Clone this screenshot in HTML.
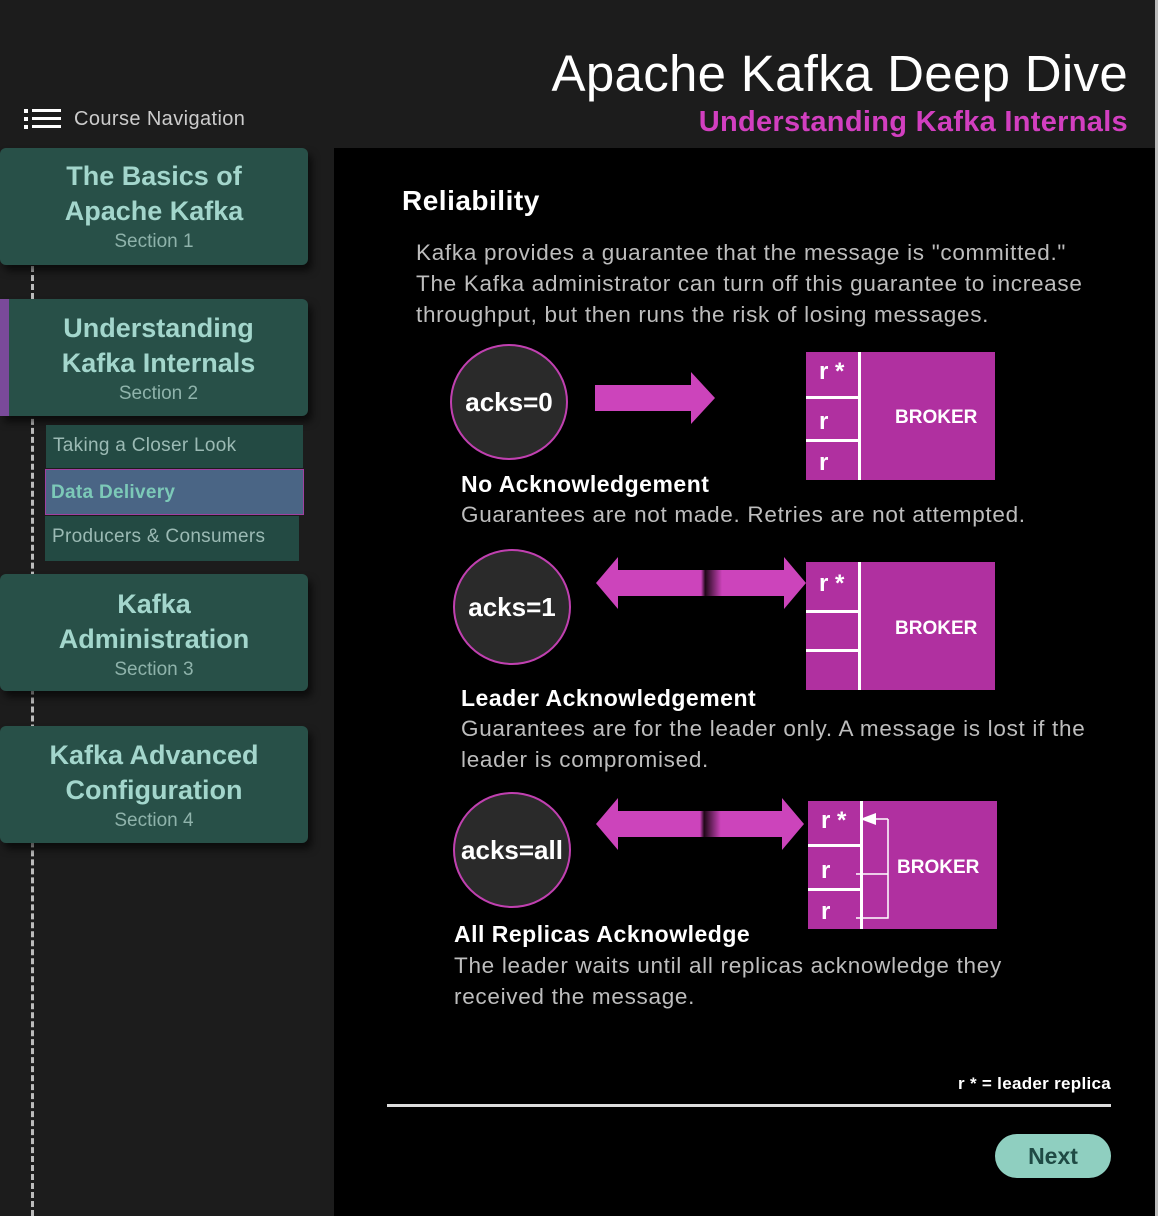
<!DOCTYPE html>
<html><head><meta charset="utf-8"><style>
*{margin:0;padding:0;box-sizing:border-box}
body{width:1158px;height:1216px;background:#1c1c1c;font-family:"Liberation Sans",sans-serif;position:relative;overflow:hidden}
.a{position:absolute}
.card{position:absolute;left:0;width:308px;background:#285048;border-radius:6px;box-shadow:4px 6px 8px rgba(0,0,0,.6);text-align:center;color:#a3d6cc;font-weight:bold;font-size:27px;line-height:35px}
.card span{display:block;font-weight:normal;font-size:19px;line-height:26px;color:#8fb3ab}
.sub{position:absolute;background:#234a43;color:#9bbab4;font-size:19px;padding-left:7px;line-height:42px;letter-spacing:.3px}
.circ{position:absolute;width:118px;height:116px;border-radius:50%;background:#2a2a2a;border:2px solid #c040b0;color:#fff;font-weight:bold;font-size:26px;display:flex;align-items:center;justify-content:center}
.h{position:absolute;color:#fff;font-weight:bold;font-size:23px;letter-spacing:.5px}
.t{position:absolute;color:#bdbdbd;font-size:22.5px;line-height:31px;letter-spacing:.7px}
.br{position:absolute;background:#b030a0}
.br .l{position:absolute;left:52px;top:0;bottom:0;width:3px;background:#fff}
.br .r{position:absolute;left:0;width:52px;height:3px;background:#fff}
.br i{position:absolute;color:#fff;font-style:normal;font-weight:bold;font-size:19px}
</style></head><body>
<div class="a" style="left:334px;top:148px;width:821px;height:1068px;background:#000"></div>
<div class="a" style="left:1155px;top:0;width:3px;height:1216px;background:#bbb"></div>
<div class="a" style="right:30px;top:44px;color:#fff;font-size:51px;letter-spacing:.3px">Apache Kafka Deep Dive</div>
<div class="a" style="right:30px;top:106px;color:#d23fc0;font-size:29px;font-weight:bold;letter-spacing:.3px">Understanding Kafka Internals</div>
<svg class="a" style="left:24px;top:108px" width="38" height="22"><g fill="#fff"><rect x="0" y="1" width="4" height="4"/><rect x="0" y="9" width="4" height="4"/><rect x="0" y="17" width="4" height="4"/><rect x="8" y="1" width="29" height="3"/><rect x="8" y="9" width="29" height="3"/><rect x="8" y="17" width="29" height="3"/></g></svg>
<div class="a" style="left:74px;top:108px;color:#ccc;font-size:20px;letter-spacing:.4px">Course Navigation</div>
<div class="a" style="left:31px;top:266px;height:950px;border-left:3px dashed #bbb"></div>
<div class="card" style="top:148px;height:117px;padding-top:11px">The Basics of<br>Apache Kafka<span>Section 1</span></div>
<div class="card" style="top:299px;height:117px;padding-top:12px;border-left:9px solid #7a4a9a;border-radius:0 6px 6px 0">Understanding<br>Kafka Internals<span>Section 2</span></div>
<div class="sub" style="left:46px;top:425px;width:257px;height:43px">Taking a Closer Look</div>
<div class="sub" style="left:45px;top:469px;width:259px;height:46px;background:#4a6585;border:1px solid #a040a0;color:#7cc9b8;font-weight:bold;line-height:46px;padding-left:5px">Data Delivery</div>
<div class="sub" style="left:45px;top:516px;width:254px;height:45px">Producers &amp; Consumers</div>
<div class="card" style="top:574px;height:117px;padding-top:13px">Kafka<br>Administration<span>Section 3</span></div>
<div class="card" style="top:726px;height:117px;padding-top:12px">Kafka Advanced<br>Configuration<span>Section 4</span></div>

<div class="h" style="left:402px;top:185px;font-size:28px">Reliability</div>
<div class="t" style="left:416px;top:237px">Kafka provides a guarantee that the message is "committed."<br>The Kafka administrator can turn off this guarantee to increase<br>throughput, but then runs the risk of losing messages.</div>

<div class="circ" style="left:450px;top:344px">acks=0</div>
<svg class="a" style="left:595px;top:372px" width="122" height="52"><polygon points="0,13 96,13 96,0 120,26 96,52 96,39 0,39" fill="#cc44bb"/></svg>
<div class="br" style="left:806px;top:352px;width:189px;height:128px"><div class="l"></div><div class="r" style="top:44px"></div><div class="r" style="top:87px"></div><i style="left:13px;top:6px;font-size:24px">r *</i><i style="left:13px;top:56px;font-size:24px">r</i><i style="left:13px;top:97px;font-size:24px">r</i><i style="left:89px;top:55px">BROKER</i></div>
<div class="h" style="left:461px;top:471px">No Acknowledgement</div>
<div class="t" style="left:461px;top:499px">Guarantees are not made. Retries are not attempted.</div>

<div class="circ" style="left:453px;top:549px">acks=1</div>
<svg class="a" style="left:596px;top:557px" width="214" height="52"><defs><linearGradient id="g" x1="0" x2="1"><stop offset="0.5" stop-color="#cc44bb"/><stop offset="0.52" stop-color="#200818"/><stop offset="0.6" stop-color="#cc44bb"/></linearGradient></defs><polygon points="0,26 22,0 22,13 188,13 188,0 210,26 188,52 188,39 22,39 22,52" fill="url(#g)"/></svg>
<div class="br" style="left:806px;top:562px;width:189px;height:128px"><div class="l"></div><div class="r" style="top:48px"></div><div class="r" style="top:87px"></div><i style="left:13px;top:8px;font-size:24px">r *</i><i style="left:89px;top:56px">BROKER</i></div>
<div class="h" style="left:461px;top:685px">Leader Acknowledgement</div>
<div class="t" style="left:461px;top:713px">Guarantees are for the leader only. A message is lost if the<br>leader is compromised.</div>

<div class="circ" style="left:453px;top:792px">acks=all</div>
<svg class="a" style="left:596px;top:798px" width="210" height="52"><polygon points="0,26 22,0 22,13 186,13 186,0 208,26 186,52 186,39 22,39 22,52" fill="url(#g)"/></svg>
<div class="br" style="left:808px;top:801px;width:189px;height:128px"><div class="l"></div><div class="r" style="top:43px"></div><div class="r" style="top:87px"></div><i style="left:13px;top:6px;font-size:24px">r *</i><i style="left:13px;top:56px;font-size:24px">r</i><i style="left:13px;top:97px;font-size:24px">r</i><i style="left:89px;top:56px">BROKER</i>
<svg style="position:absolute;left:44px;top:10px" width="40" height="110"><polyline points="36,8 36,107 4,107" fill="none" stroke="#fff" stroke-width="1.5"/><line x1="4" y1="63" x2="36" y2="63" stroke="#fff" stroke-width="1.5"/><line x1="36" y1="8" x2="20" y2="8" stroke="#fff" stroke-width="1.5"/><polygon points="8,8 24,2 24,14" fill="#fff"/></svg></div>
<div class="h" style="left:454px;top:921px">All Replicas Acknowledge</div>
<div class="t" style="left:454px;top:950px">The leader waits until all replicas acknowledge they<br>received the message.</div>

<div class="a" style="right:47px;top:1074px;color:#fff;font-weight:bold;font-size:17px;letter-spacing:.3px">r * = leader replica</div>
<div class="a" style="left:387px;top:1104px;width:724px;height:3px;background:#ddd"></div>
<div class="a" style="left:995px;top:1134px;width:116px;height:44px;border-radius:22px;background:#8fcfc0;color:#1f4a44;font-weight:bold;font-size:23px;text-align:center;line-height:44px">Next</div>
</body></html>
